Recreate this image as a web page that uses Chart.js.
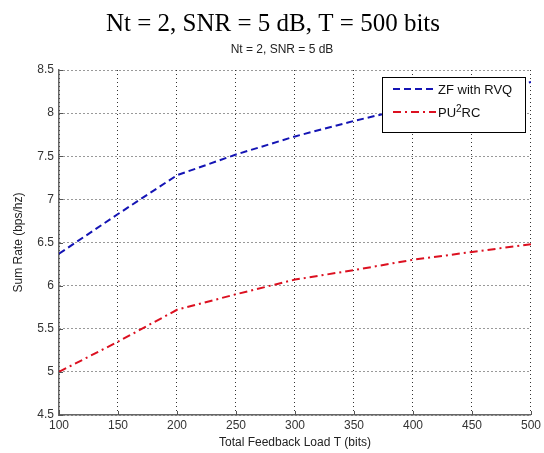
<!DOCTYPE html>
<html>
<head>
<meta charset="utf-8">
<script src="https://cdn.jsdelivr.net/npm/chart.js@4.4.0/dist/chart.umd.min.js"></script>
<style>
  html, body { margin: 0; padding: 0; background: #fff; }
  #wrap { width: 544px; height: 453px; }
</style>
</head>
<body>
<div id="wrap"><canvas id="sumRateChart" width="544" height="453"></canvas></div>
<script>
// values
const feedbackLoad = [100, 150, 200, 250, 300, 350, 400, 450, 500];
const zfRvq = [6.37, 6.83, 7.28, 7.52, 7.73, 7.91, 8.07, 8.22, 8.36];
const pu2rc = [5.0, 5.35, 5.72, 5.9, 6.07, 6.18, 6.30, 6.39, 6.48];
const seriesNames = ['ZF with RVQ', 'PU\u00B2RC'];
const mainTitle = 'Nt = 2, SNR = 5 dB, T = 500 bits';
const subTitle = 'Nt = 2, SNR = 5 dB';

const toPoints = vals => vals.map((v, i) => ({ x: feedbackLoad[i], y: v }));
const sansFont = '"Liberation Sans", Arial, sans-serif';

// draws a label, turning "²" into a real raised 2
function drawLabel(ctx, text, x, y) {
    const parts = text.split('\u00B2');
    ctx.font = '13px ' + sansFont;
    ctx.fillText(parts[0], x, y);
    if (parts.length < 2) return;
    x += ctx.measureText(parts[0]).width;
    ctx.font = '10px ' + sansFont;
    ctx.fillText('2', x, y - 4);
    x += ctx.measureText('2').width;
    ctx.font = '13px ' + sansFont;
    ctx.fillText(parts[1], x, y);
}

// titles, inward ticks and the boxed legend
const matlabLook = {
    id: 'matlabLook',
    afterDraw(chart) {
        const ctx = chart.ctx;
        const area = chart.chartArea;
        const xs = chart.scales.x, ys = chart.scales.y;
        ctx.save();

        ctx.fillStyle = '#000';
        ctx.textAlign = 'center';
        ctx.textBaseline = 'middle';
        ctx.font = '25px "Liberation Serif", "Times New Roman", serif';
        ctx.fillText(mainTitle, 273, 24);
        ctx.font = '12px ' + sansFont;
        ctx.fillStyle = '#222';
        ctx.fillText(subTitle, 282, 50);

        // short inward ticks along the left and bottom axes
        ctx.strokeStyle = '#555';
        ctx.lineWidth = 1;
        ctx.beginPath();
        xs.ticks.forEach(t => {
            const px = Math.round(xs.getPixelForValue(t.value)) + 0.5;
            ctx.moveTo(px, area.bottom);
            ctx.lineTo(px, area.bottom - 4);
        });
        ys.ticks.forEach(t => {
            const py = Math.round(ys.getPixelForValue(t.value)) + 0.5;
            ctx.moveTo(area.left, py);
            ctx.lineTo(area.left + 4, py);
        });
        ctx.stroke();

        // legend box
        const bx = 382, by = 77, bw = 143, bh = 55;
        ctx.fillStyle = '#fff';
        ctx.fillRect(bx, by, bw, bh);
        ctx.strokeStyle = '#000';
        ctx.lineWidth = 1;
        ctx.strokeRect(bx + 0.5, by + 0.5, bw, bh);

        ctx.textAlign = 'left';
        chart.data.datasets.forEach((ds, i) => {
            const ly = by + 12 + i * 23;
            ctx.strokeStyle = ds.borderColor;
            ctx.lineWidth = 2;
            ctx.setLineDash(ds.borderDash);
            ctx.beginPath();
            ctx.moveTo(bx + 11, ly);
            ctx.lineTo(bx + 54, ly);
            ctx.stroke();
            ctx.setLineDash([]);
            ctx.fillStyle = '#111';
            drawLabel(ctx, ds.label, bx + 56, ly + 1);
        });
        ctx.restore();
    }
};

const ctx = document.getElementById('sumRateChart').getContext('2d');
new Chart(ctx, {
    type: 'line',
    data: {
        datasets: [{
            label: seriesNames[0],
            data: toPoints(zfRvq),
            borderColor: '#1414b4',
            borderWidth: 2,
            borderDash: [7, 4],
            pointRadius: 0,
            fill: false,
            tension: 0
        }, {
            label: seriesNames[1],
            data: toPoints(pu2rc),
            borderColor: '#dc1020',
            borderWidth: 2,
            borderDash: [8, 4, 2, 4],
            pointRadius: 0,
            fill: false,
            tension: 0
        }]
    },
    options: {
        responsive: false,
        animation: false,
        layout: { padding: { top: 70, right: 13, left: 0, bottom: 0 } },
        plugins: {
            legend: { display: false },
            tooltip: { enabled: false },
            title: { display: false }
        },
        scales: {
            x: {
                type: 'linear',
                min: 100,
                max: 500,
                ticks: {
                    stepSize: 50,
                    padding: 3,
                    color: '#333',
                    font: { family: sansFont, size: 12 }
                },
                grid: { color: '#333', lineWidth: 1, drawTicks: false },
                border: { display: true, color: '#666', width: 1.5, dash: [1, 3] },
                title: {
                    display: true,
                    text: 'Total Feedback Load T (bits)',
                    color: '#222',
                    padding: { top: 1, bottom: 3 },
                    font: { family: sansFont, size: 12 }
                },
                afterFit: scale => { scale.height = 38; }
            },
            y: {
                min: 4.5,
                max: 8.5,
                ticks: {
                    stepSize: 0.5,
                    padding: 5,
                    color: '#333',
                    font: { family: sansFont, size: 12 },
                    callback: v => String(v)
                },
                grid: { color: '#333', lineWidth: 1, drawTicks: false },
                border: { display: true, color: '#666', width: 1.5, dash: [1, 3] },
                title: {
                    display: true,
                    text: 'Sum Rate (bps/hz)',
                    color: '#222',
                    padding: { top: 11, bottom: 0 },
                    font: { family: sansFont, size: 12 }
                },
                afterFit: scale => { scale.width = 59; }
            }
        }
    },
    plugins: [matlabLook]
});
</script>
</body>
</html>
